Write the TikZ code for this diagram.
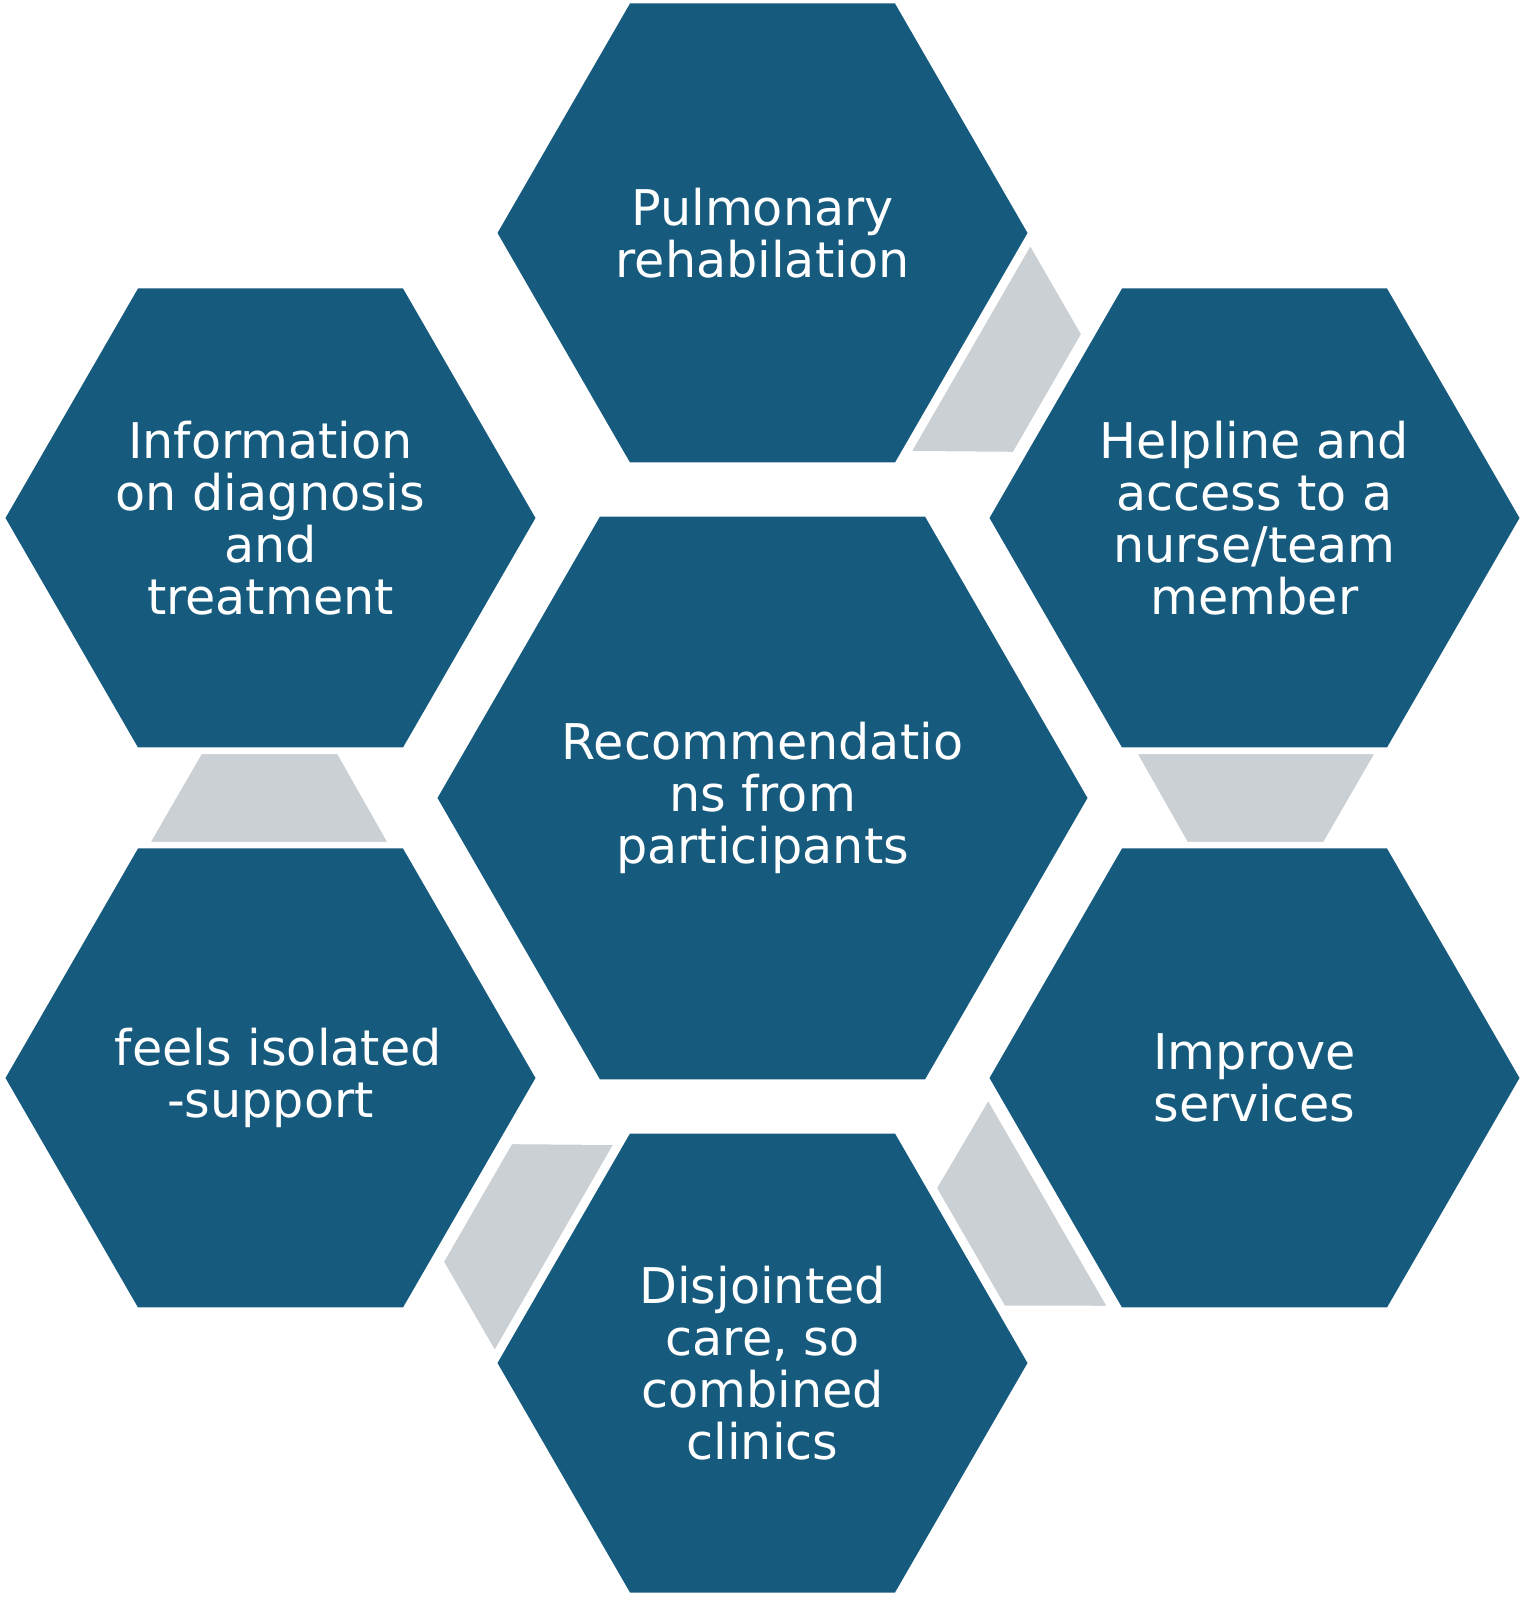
\documentclass[tikz,border=0pt]{standalone}
\usepackage{fontspec}
\setmainfont{DejaVu Sans}
\usetikzlibrary{shapes.geometric}
\definecolor{HexBlue}{HTML}{165B7E}
\definecolor{LinkGrey}{HTML}{CBD0D4}
\tikzset{
  hexa/.style={regular polygon,regular polygon sides=6,fill=HexBlue,draw=none,inner sep=0pt,outer sep=0pt,minimum size=5.3cm},
  hub/.style={hexa,minimum size=6.5cm},
  txt/.style={text=white,align=center,inner sep=0pt,font=\fontsize{14pt}{14.75pt}\selectfont},
  link/.style={fill=LinkGrey,draw=white,line width=.6pt}
}
\begin{document}
\begin{tikzpicture}
  \useasboundingbox (-7.625,-7.99) rectangle (7.615,7.98);
  \node[hub,label={[txt]center:Recommendatio\\ns from\\participants}] (rec) at (0,0) {};
  \node[hexa,label={[txt]center:Pulmonary\\rehabilation}] (pulm) at (0,5.65) {};
  \node[hexa,label={[txt]center:Helpline and\\access to a\\nurse/team\\member}] (help) at (4.92,2.8) {};
  \node[hexa,label={[txt]center:Improve\\services}] (impr) at (4.92,-2.8) {};
  \node[hexa,label={[txt]center:Disjointed\\care, so\\combined\\clinics}] (disj) at (0,-5.65) {};
  \node[hexa,label={[txt]center:\ feels isolated\\-support}] (isol) at (-4.92,-2.8) {};
  \node[hexa,label={[txt]center:Information\\on diagnosis\\and\\treatment}] (info) at (-4.92,2.8) {};
  % grey links between neighbouring hexagons
  \foreach \a in {60,0,-60,-120,180}
    \path[link,shift={(rec.center)},rotate=\a] (3.735,.45) -- (6.135,.45) -- (5.615,-.45) -- (4.245,-.45) -- cycle;
\end{tikzpicture}
\end{document}
